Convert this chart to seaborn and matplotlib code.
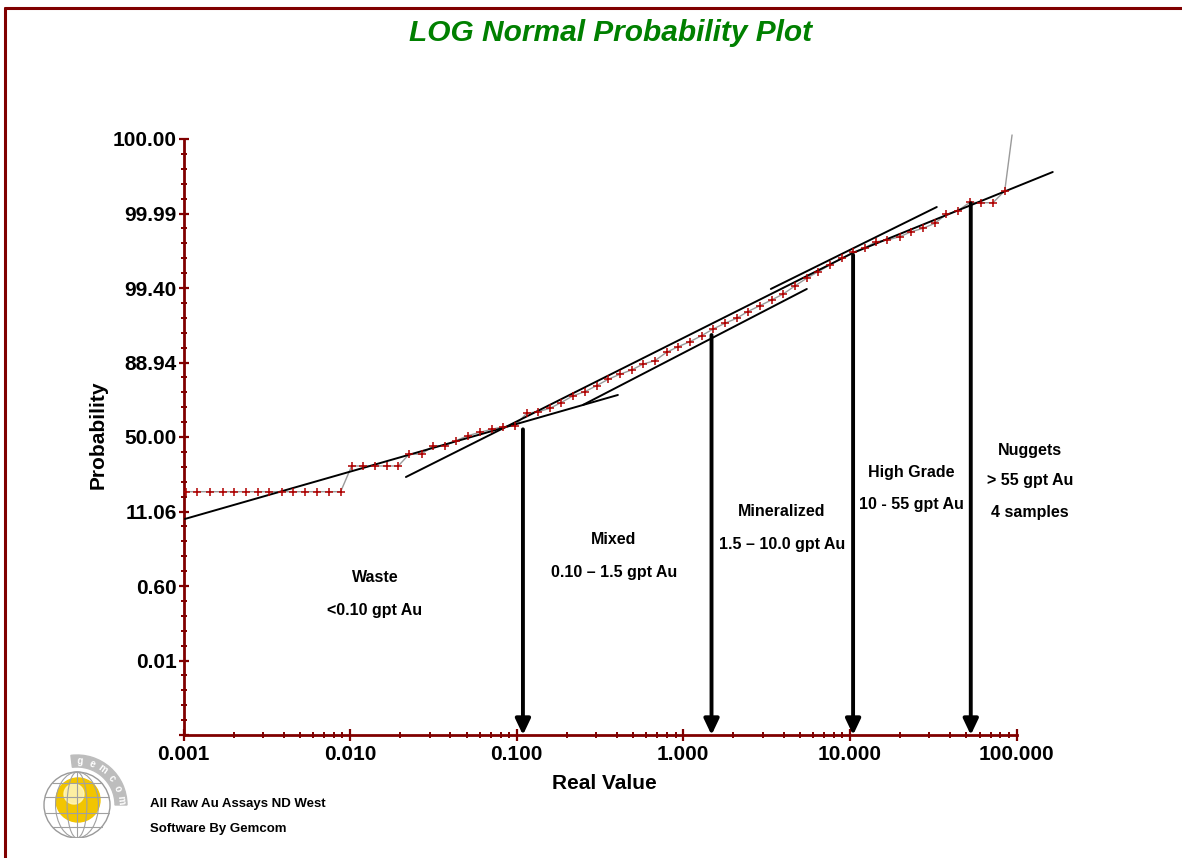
import numpy as np
import pandas as pd
import matplotlib
matplotlib.use("Agg")
import matplotlib.pyplot as plt
import seaborn as sns
from matplotlib.patches import Circle, Wedge, Ellipse
from matplotlib.lines import Line2D
from matplotlib.ticker import FixedLocator, LogLocator, NullFormatter

# ---------------- data ----------------
grade = [0.001035, 0.001210, 0.001442, 0.001718, 0.002009, 0.002371, 0.002799,
         0.003272, 0.003884, 0.004560, 0.005381, 0.006352, 0.007496, 0.008776,
         0.01022, 0.01199, 0.01409, 0.01657, 0.01945, 0.02264, 0.02687, 0.03154,
         0.03708, 0.04317, 0.05074, 0.06014, 0.07068, 0.08299, 0.09754,
         0.1147, 0.1346, 0.1582, 0.1841, 0.2183, 0.2565, 0.3016, 0.3540, 0.4160,
         0.4890, 0.5742, 0.6752, 0.7934, 0.9314,
         1.095, 1.287, 1.511, 1.775, 2.087, 2.430, 2.880, 3.385, 3.974, 4.671,
         5.491, 6.446, 7.574, 8.905,
         10.45, 12.29, 14.44, 16.81, 19.93, 23.42, 27.49, 32.31, 37.98, 44.59,
         52.41, 61.61, 72.31, 85.03, 94.04]
prob_score = [-0.734] * 14 + [-0.389] * 5 + [
    -0.23, -0.23, -0.117, -0.117, -0.050, 0.017, 0.063, 0.103, 0.138, 0.152,
    0.318, 0.340, 0.385, 0.460, 0.554, 0.608, 0.689, 0.774, 0.842, 0.899,
    0.980, 1.024, 1.137, 1.212,
    1.279, 1.360, 1.450, 1.526, 1.593, 1.682, 1.762, 1.839, 1.919, 2.027,
    2.130, 2.219, 2.309, 2.399,
    2.479, 2.541, 2.621, 2.644, 2.689, 2.756, 2.801, 2.868, 2.989, 3.038,
    3.150, 3.145, 3.145, 3.306, 4.054]

fit_grade_start = [0.00102, 0.02163, 0.2496, 3.353, 10.41]
fit_grade_end = [0.4048, 10.41, 5.513, 33.22, 165.0]
fit_score_start = [-1.10, -0.537, 0.430, 1.987, 2.470]
fit_score_end = [0.564, 2.470, 1.987, 3.087, 3.557]

cutoff_grade = [0.109, 1.477, 10.45, 53.15]
cutoff_score = [0.103, 1.369, 2.443, 3.137]

prob_tick_labels = ["", "0.01", "0.60", "11.06", "50.00", "88.94", "99.40", "99.99", "100.00"]
grade_ticks = [0.001, 0.01, 0.1, 1, 10, 100]
grade_tick_labels = ["0.001", "0.010", "0.100", "1.000", "10.000", "100.000"]

class_names = ["Waste", "Mixed", "Mineralized", "High Grade", "Nuggets"]
class_ranges = ["<0.10 gpt Au", "0.10 \u2013 1.5 gpt Au", "1.5 \u2013 10.0 gpt Au",
                "10 - 55 gpt Au", "> 55 gpt Au"]

# ---------------- style ----------------
sns.set_theme(style="white")
plt.rcParams["font.family"] = ["Liberation Sans", "DejaVu Sans"]
plt.rcParams["font.weight"] = "bold"
plt.rcParams["text.color"] = "black"
plt.rcParams["axes.labelcolor"] = "black"
AXR = "#800000"

W, H = 1182, 858
fig = plt.figure(figsize=(W / 100, H / 100), dpi=100)
fig.patch.set_facecolor("white")

def fx(px):
    return px / W

def fy(py):
    return 1 - py / H

ax = fig.add_axes([fx(183.5), fy(735), (1016.5 - 183.5) / W, (735 - 139) / H])
ax.set_facecolor("white")
ax.set_xscale("log")

df = pd.DataFrame({"grade": grade, "score": prob_score})
fit_df = pd.DataFrame({
    "seg": np.repeat(np.arange(len(fit_grade_start)), 2),
    "grade": np.ravel(np.column_stack([fit_grade_start, fit_grade_end])),
    "score": np.ravel(np.column_stack([fit_score_start, fit_score_end])),
})

sns.lineplot(data=df, x="grade", y="score", ax=ax, color="#9a9a9a", lw=1.0,
             estimator=None, sort=False, zorder=2)
sns.lineplot(data=fit_df, x="grade", y="score", units="seg", ax=ax, color="black",
             lw=1.4, estimator=None, sort=False, zorder=3)
sns.scatterplot(data=df.iloc[:-1], x="grade", y="score", ax=ax, marker="+", s=40,
                color="#b00000", linewidth=1.1, zorder=4)
for ln in ax.lines:
    ln.set_clip_on(False)

ax.set_xlim(0.001, 100)
ax.set_ylim(-4, 4)

for g, s in zip(cutoff_grade, cutoff_score):
    ax.annotate("", xy=(g, -4), xytext=(g, s),
                arrowprops=dict(arrowstyle="-|>,head_length=0.95,head_width=0.45",
                                color="black", lw=2.8, shrinkA=0, shrinkB=0,
                                mutation_scale=10), zorder=5)

# ticks
ax.set_yticks(np.arange(-4, 5))
ax.set_yticklabels(prob_tick_labels)
ax.yaxis.set_minor_locator(FixedLocator(np.arange(-4, 4.001, 0.2)))
ax.set_xticks(grade_ticks)
ax.set_xticklabels(grade_tick_labels)
ax.xaxis.set_minor_locator(LogLocator(base=10, subs=np.arange(2, 10), numticks=20))
ax.xaxis.set_minor_formatter(NullFormatter())
ax.tick_params(axis="y", which="major", direction="inout", length=6.5, width=1.6,
               color=AXR, labelsize=15, pad=1.5, left=True)
ax.tick_params(axis="y", which="minor", direction="inout", length=4.5, width=1.4,
               color=AXR, left=True)
ax.tick_params(axis="x", which="major", direction="inout", length=8, width=1.6,
               color=AXR, labelsize=15, pad=3, bottom=True)
ax.tick_params(axis="x", which="minor", direction="inout", length=4.5, width=1.4,
               color=AXR, bottom=True)
for lab in ax.get_xticklabels() + ax.get_yticklabels():
    lab.set_fontweight("bold")
    lab.set_color("black")

for side in ["top", "right"]:
    ax.spines[side].set_visible(False)
for side in ["left", "bottom"]:
    ax.spines[side].set_color(AXR)
    ax.spines[side].set_linewidth(2.0)

ax.set_xlabel("Real Value", fontsize=15, fontweight="bold", color="black")
ax.set_ylabel("Probability", fontsize=15, fontweight="bold", color="black")
ax.xaxis.set_label_coords(0.505, -0.066)
ax.yaxis.set_label_coords(-0.091, 0.503)

# title
fig.text(fx(611), fy(33), "LOG Normal Probability Plot", ha="center", va="center",
         color="#008000", fontsize=21.5, fontweight="bold", fontstyle="italic")

# class labels
name_pos = [(375, 578), (614, 540), (782, 512), (911, 472), (1030, 450)]
range_pos = [(375, 610), (614, 572), (782, 544), (911, 504), (1030, 480)]
for name, (px, py) in zip(class_names, name_pos):
    fig.text(fx(px), fy(py), name, ha="center", va="center", fontsize=11.5,
             fontweight="bold", color="black")
for rng, (px, py) in zip(class_ranges, range_pos):
    fig.text(fx(px), fy(py), rng, ha="center", va="center", fontsize=11.5,
             fontweight="bold", color="black")
fig.text(fx(1030), fy(512), "4 samples", ha="center", va="center", fontsize=11.5,
         fontweight="bold", color="black")

# footer text
fig.text(fx(150), fy(804), "All Raw Au Assays ND West", ha="left", va="center",
         fontsize=9.5, fontweight="bold", color="black")
fig.text(fx(150), fy(829), "Software By Gemcom", ha="left", va="center",
         fontsize=9.5, fontweight="bold", color="black")

# page border (top and left)
fig.add_artist(Line2D([fx(5), fx(5)], [0, fy(8)], transform=fig.transFigure,
                      color=AXR, lw=2.2))
fig.add_artist(Line2D([fx(5), 1], [fy(8), fy(8)], transform=fig.transFigure,
                      color=AXR, lw=2.2))

# logo
lax = fig.add_axes([fx(40), fy(838), 88 / W, 86 / H])
lax.set_xlim(40, 128)
lax.set_ylim(20, 106)
lax.set_aspect("equal")
lax.axis("off")
cx, cy = 77, 53
lax.add_patch(Wedge((cx, cy), 50, 0, 97, width=12, color="#bdbdbd"))
for i, ch in enumerate("gemcom"):
    ang = np.deg2rad(86 - i * 16)
    lax.text(cx + 44 * np.cos(ang), cy + 44 * np.sin(ang), ch,
             rotation=np.rad2deg(ang) - 90, color="white", fontsize=7,
             ha="center", va="center", fontweight="bold")
lax.add_patch(Circle((cx + 1, cy + 5), 22, color="#f2c500", zorder=3))
lax.add_patch(Circle((cx - 3, cy + 11), 10, color="#fff7c0", alpha=0.85, zorder=4))
lax.add_patch(Circle((cx, cy), 33, fill=False, ec="#9a9a9a", lw=1.0, zorder=5))
for wfrac in [0.3, 0.65]:
    lax.add_patch(Ellipse((cx, cy), 66 * wfrac, 66, fill=False, ec="#a0a0a0",
                          lw=0.8, zorder=5))
lax.plot([cx, cx], [cy - 33, cy + 33], color="#a0a0a0", lw=0.8, zorder=5)
for dy in [-22, -8, 8, 22]:
    hw = np.sqrt(33 ** 2 - dy ** 2)
    lax.plot([cx - hw, cx + hw], [cy + dy, cy + dy], color="#a0a0a0", lw=0.8, zorder=5)

fig.savefig("out.png", dpi=100)
